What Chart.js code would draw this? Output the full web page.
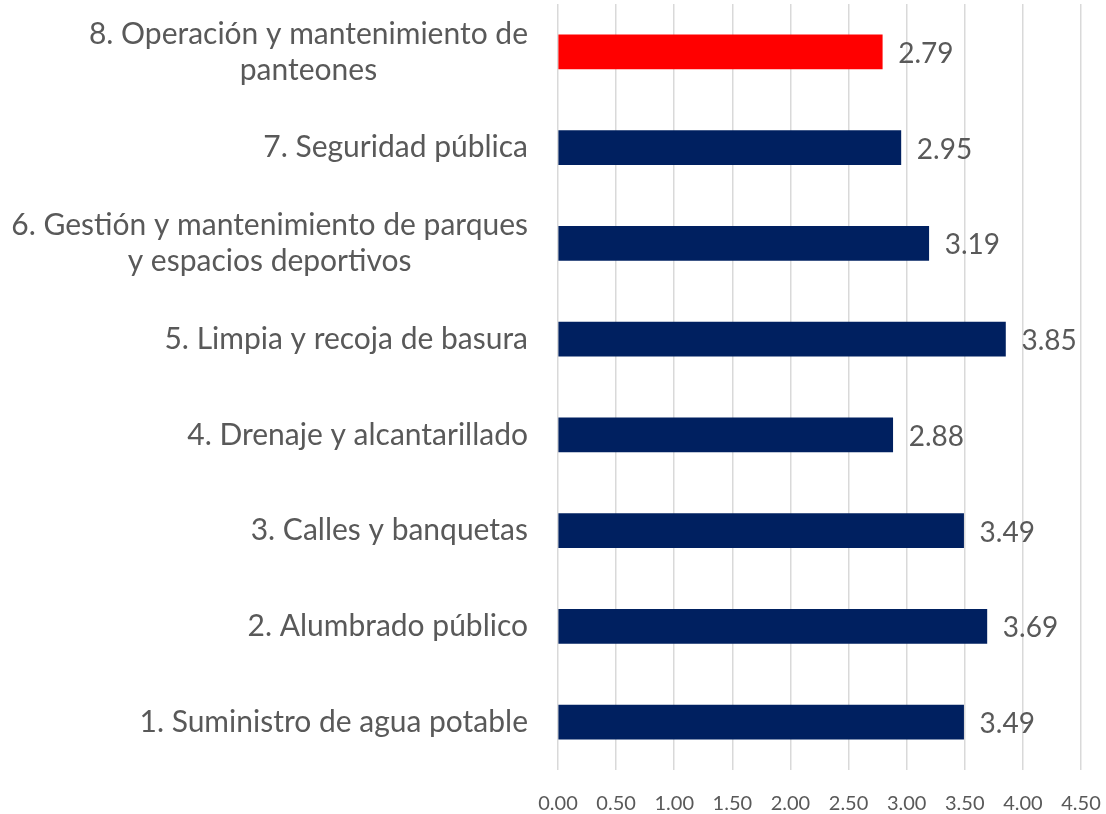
<!DOCTYPE html>
<html>
<head>
<meta charset="utf-8">
<script src="https://cdn.jsdelivr.net/npm/chart.js@4.4.1/dist/chart.umd.min.js"></script>
<style>
  html, body { margin: 0; padding: 0; background: #fff; }
  #wrap { width: 1106px; height: 814px; position: relative; }
</style>
</head>
<body>
<div id="wrap"><canvas id="c1"></canvas></div>
<script>
Chart.defaults.font.family = "Lato, 'Open Sans', sans-serif";
Chart.defaults.color = '#595959';

const COLORS = {
  navy: '#002060',
  red:  '#FF0000',
  grid: '#D9D9D9',
  text: '#595959',
};

// Servicios, de arriba hacia abajo
const SERVICIOS = [
  ['8. Operación y mantenimiento de', 'panteones'],
  ['7. Seguridad pública'],
  ['6. Gestión y mantenimiento de parques', 'y espacios deportivos'],
  ['5. Limpia y recoja de basura'],
  ['4. Drenaje y alcantarillado'],
  ['3. Calles y banquetas'],
  ['2. Alumbrado público'],
  ['1. Suministro de agua potable'],
];
const CALIFICACION = [2.79, 2.95, 3.19, 3.85, 2.88, 3.49, 3.69, 3.49];
const BAR_COLORS = [COLORS.red, COLORS.navy, COLORS.navy, COLORS.navy, COLORS.navy, COLORS.navy, COLORS.navy, COLORS.navy];
const X_TICKS = [0, 0.5, 1, 1.5, 2, 2.5, 3, 3.5, 4, 4.5];

// etiquetas de categoría: una línea alineada a la derecha, varias líneas centradas entre sí
const categoryLabels = {
  id: 'categoryLabels',
  afterDraw(chart) {
    const { ctx, chartArea, scales } = chart;
    const right = chartArea.left - 30;
    ctx.save();
    ctx.font = "30px Lato, 'Open Sans', sans-serif";
    ctx.fillStyle = COLORS.text;
    ctx.textBaseline = 'middle';
    ctx.textAlign = 'center';
    SERVICIOS.forEach((lines, i) => {
      const y = scales.y.getPixelForValue(i);
      const widest = Math.max(...lines.map(l => ctx.measureText(l).width));
      const cx = right - widest / 2;
      const lh = 36;
      lines.forEach((l, k) => {
        ctx.fillText(l, cx, y + (k - (lines.length - 1) / 2) * lh);
      });
    });
    ctx.restore();
  },
};

// valor al final de cada barra
const valueLabels = {
  id: 'valueLabels',
  afterDatasetsDraw(chart) {
    const { ctx } = chart;
    const meta = chart.getDatasetMeta(0);
    ctx.save();
    ctx.font = "28px Lato, 'Open Sans', sans-serif";
    ctx.fillStyle = COLORS.text;
    ctx.textAlign = 'left';
    ctx.textBaseline = 'middle';
    meta.data.forEach((bar, i) => {
      ctx.fillText(CALIFICACION[i].toFixed(2), bar.x + 16, bar.y + 2);
    });
    ctx.restore();
  },
};

new Chart(document.getElementById('c1'), {
  type: 'bar',
  data: {
    labels: SERVICIOS,
    datasets: [{
      data: CALIFICACION,
      backgroundColor: BAR_COLORS,
      barThickness: 34,
    }],
  },
  options: {
    indexAxis: 'y',
    responsive: true, maintainAspectRatio: false,
    animation: false,
    layout: { padding: { top: 4, right: 25, left: 0, bottom: 0 } },
    plugins: { legend: { display: false }, tooltip: { enabled: false } },
    scales: {
      x: {
        min: 0, max: 4.5,
        afterBuildTicks: s => { s.ticks = X_TICKS.map(v => ({ value: v })); },
        grid: { color: COLORS.grid, lineWidth: 1.5, drawTicks: false },
        border: { display: false },
        ticks: { font: { size: 20 }, color: COLORS.text, padding: 22, maxRotation: 0, callback: v => v.toFixed(2) },
        afterFit: s => { s.height = 44; s.paddingLeft = 0; s.paddingRight = 0; },
      },
      y: {
        grid: { display: false },
        border: { display: false },
        ticks: { display: false },
        afterFit: s => { s.width = 558; },
      },
    },
  },
  plugins: [categoryLabels, valueLabels],
});
</script>
</body>
</html>
